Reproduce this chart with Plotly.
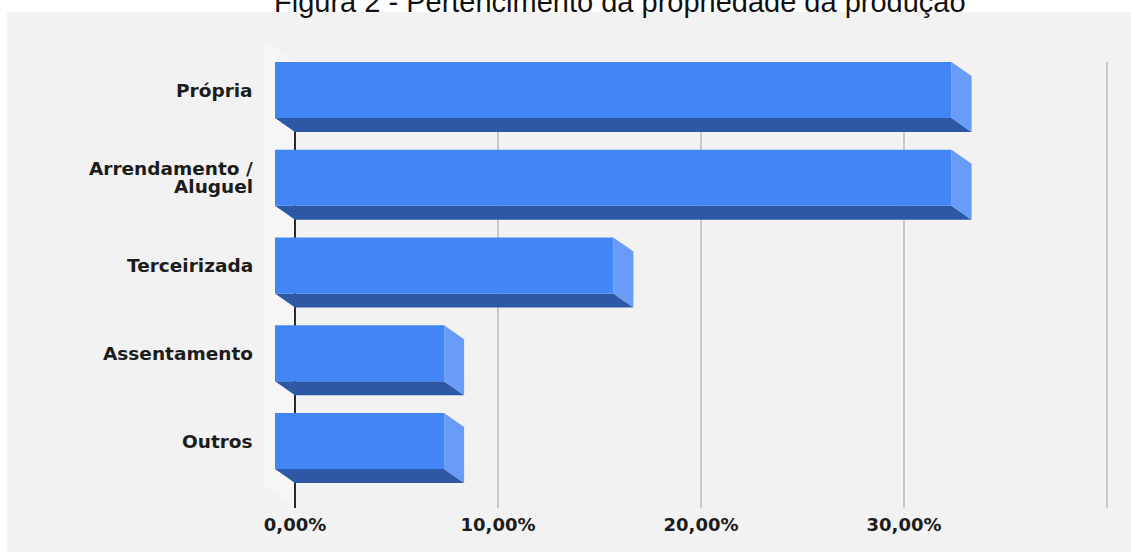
import plotly.graph_objects as go

# --- data -------------------------------------------------------------
categories = ["Própria", "Arrendamento /<br>Aluguel", "Terceirizada", "Assentamento", "Outros"]
shares = [33.33, 33.33, 16.67, 8.33, 8.33]          # % of respondents
grid_values = [0, 10, 20, 30, 40]
tick_values = [0, 10, 20, 30]
tick_labels = ["0,00%", "10,00%", "20,00%", "30,00%"]
title_text = "Figura 2 - Pertencimento da propriedade da produção"

# --- canvas / axes geometry --------------------------------------------
W, H = 1131, 552
M_L, M_R, M_T, M_B = 262, 16, 40, 44
X_RANGE = [-1.626, 40.394]
Y_RANGE = [4.7635, -0.5698]          # reversed: first category on top
PLOT_W = W - M_L - M_R
PLOT_H = H - M_T - M_B
PX_X = PLOT_W / (X_RANGE[1] - X_RANGE[0])
PX_Y = PLOT_H / (Y_RANGE[0] - Y_RANGE[1])

# 3-D extrusion (screen pixels converted to data units)
DEPTH_PX = (20, 14)
WALL_DEPTH_PX = (30, 21)
dx, dy = DEPTH_PX[0] / PX_X, DEPTH_PX[1] / PX_Y
wdx, wdy = WALL_DEPTH_PX[0] / PX_X, WALL_DEPTH_PX[1] / PX_Y
HALF = 0.319                          # half height of a bar's front face
LABEL_LINE_GAP = 18                   # px between lines of a wrapped label

FRONT = "#4285f4"
BOTTOM = "#2d58a6"
SIDE = "#689cf6"
BG = "#f2f2f2"
TEXT = "#1c1c1c"

positions = list(range(len(categories)))
y_top = positions[0] - HALF
y_bot = Y_RANGE[0]


def px_to_paper_x(px):
    return (px - M_L) / PLOT_W


def px_to_paper_y(py):
    return (H - M_B - py) / PLOT_H


fig = go.Figure()

# side wall of the 3-D box
fig.add_trace(go.Scatter(
    x=[0, 0, -wdx, -wdx, 0],
    y=[y_top, y_bot, y_bot - wdy, y_top - wdy, y_top],
    mode="lines", fill="toself", fillcolor="#f6f6f6",
    line=dict(width=0), hoverinfo="skip", showlegend=False))

# vertical gridlines on the back plane
gx, gy = [], []
for v in grid_values[1:]:
    gx += [v, v, None]
    gy += [y_top, y_bot, None]
fig.add_trace(go.Scatter(x=gx, y=gy, mode="lines",
                         line=dict(color="#c8c8c8", width=2),
                         hoverinfo="skip", showlegend=False))
# baseline at zero
fig.add_trace(go.Scatter(x=[grid_values[0], grid_values[0]], y=[y_top, y_bot],
                         mode="lines", line=dict(color="#2a2a2a", width=2),
                         hoverinfo="skip", showlegend=False))

# extruded bars: bottom face, right face, front face
for p, v, name in zip(positions, shares, categories):
    fig.add_trace(go.Scatter(
        x=[-dx, v - dx, v, 0, -dx],
        y=[p + HALF, p + HALF, p + HALF + dy, p + HALF + dy, p + HALF],
        mode="lines", fill="toself", fillcolor=BOTTOM, line=dict(width=0),
        hoverinfo="skip", showlegend=False))
    fig.add_trace(go.Scatter(
        x=[v - dx, v, v, v - dx, v - dx],
        y=[p - HALF, p - HALF + dy, p + HALF + dy, p + HALF, p - HALF],
        mode="lines", fill="toself", fillcolor=SIDE, line=dict(width=0),
        hoverinfo="skip", showlegend=False))
    fig.add_trace(go.Scatter(
        x=[-dx, v - dx, v - dx, -dx, -dx],
        y=[p - HALF, p - HALF, p + HALF, p + HALF, p - HALF],
        mode="lines", fill="toself", fillcolor=FRONT, line=dict(width=0),
        name=name.replace("<br>", " "), hovertemplate="%{text}<extra></extra>",
        text=[f"{v:.2f}%".replace(".", ",")] * 5, showlegend=False))

tick_font = dict(family="DejaVu Sans", size=18, color=TEXT, weight="bold")
label_font = dict(family="DejaVu Sans", size=18.5, color=TEXT, weight="bold")

# category labels, right-aligned beside the axis, with tight line spacing
annotations = []
for p, name in zip(positions, categories):
    lines = name.split("<br>")
    n = len(lines)
    for i, line in enumerate(lines):
        annotations.append(dict(
            text=line, xref="paper", yref="y", x=0, y=p,
            xanchor="right", yanchor="middle", xshift=-8, borderpad=0,
            yshift=((n - 1) / 2 - i) * LABEL_LINE_GAP,
            showarrow=False, font=label_font))

annotations.append(dict(text=title_text, xref="paper", yref="paper",
                        x=px_to_paper_x(620), y=px_to_paper_y(2),
                        xanchor="center", yanchor="middle", showarrow=False,
                        font=dict(family="Liberation Sans", size=29, color="#111")))

fig.update_layout(
    width=W, height=H,
    margin=dict(l=M_L, r=M_R, t=M_T, b=M_B),
    paper_bgcolor="white",
    plot_bgcolor="rgba(0,0,0,0)",
    xaxis=dict(range=X_RANGE, showgrid=False, zeroline=False, showline=False,
               tickvals=tick_values, ticktext=tick_labels, tickfont=tick_font,
               ticks="", ticklabelstandoff=4, fixedrange=True),
    yaxis=dict(range=Y_RANGE, showgrid=False, zeroline=False, showline=False,
               tickvals=positions, showticklabels=False, ticks="",
               fixedrange=True),
    shapes=[dict(type="rect", xref="paper", yref="paper", layer="below",
                 x0=px_to_paper_x(7), x1=px_to_paper_x(W),
                 y0=px_to_paper_y(H), y1=px_to_paper_y(12),
                 fillcolor=BG, line=dict(width=0))],
    annotations=annotations,
)

fig.write_html("out.html")
